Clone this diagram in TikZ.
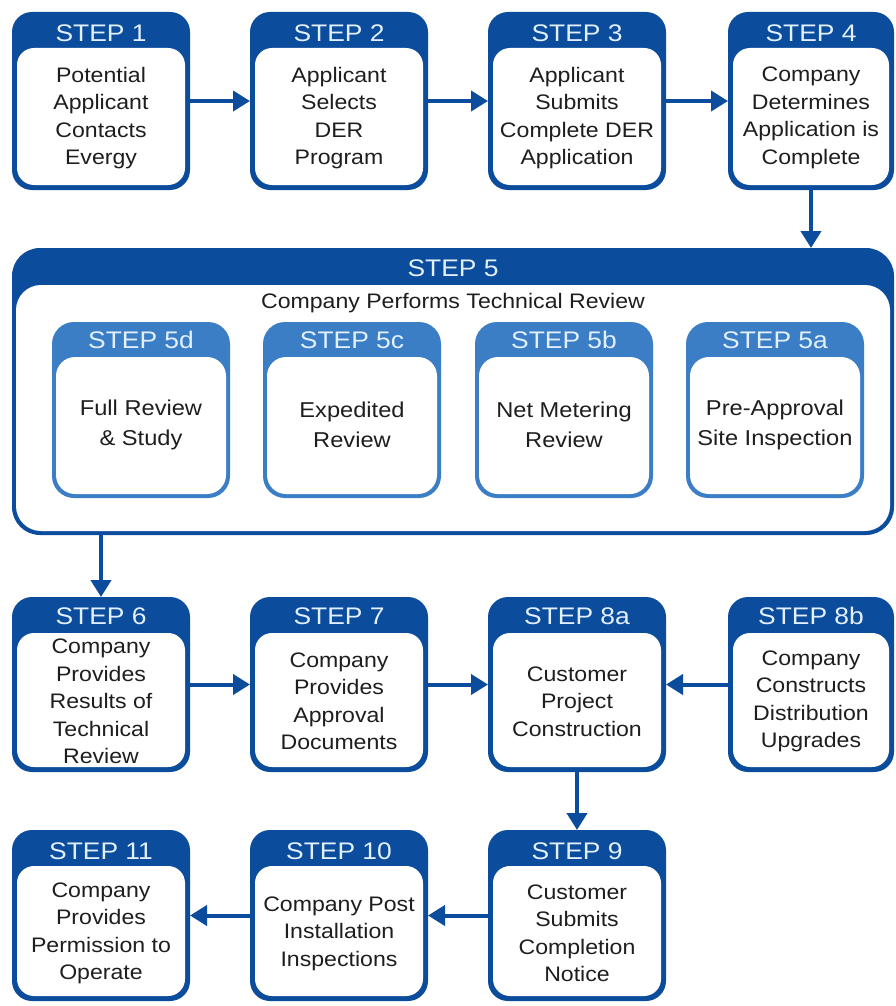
\documentclass[tikz,border=0pt]{standalone}
\usepackage{fontspec}
\setmainfont[FakeStretch=1.1]{Liberation Sans}
\usetikzlibrary{arrows.meta}
\definecolor{dblue}{HTML}{0B4C9C}
\definecolor{mblue}{HTML}{3B7EC6}
\definecolor{htext}{HTML}{E2F0FF}
\definecolor{btext}{HTML}{1E1E1E}
\tikzset{
  stepbox/.style={rectangle, inner sep=0pt, outer sep=0pt, rounded corners=20pt, fill=dblue,
    minimum width=178pt, minimum height=178pt,
    path picture={\fill[white, rounded corners=17pt]
      ([xshift=5pt,yshift=-36pt]path picture bounding box.north west) rectangle
      ([xshift=-5pt,yshift=5pt]path picture bounding box.south east);}},
  substep/.style={rectangle, inner sep=0pt, outer sep=0pt, rounded corners=22pt, fill=mblue,
    minimum width=178pt, minimum height=176pt,
    path picture={\fill[white, rounded corners=19pt]
      ([xshift=4pt,yshift=-35pt]path picture bounding box.north west) rectangle
      ([xshift=-4pt,yshift=4pt]path picture bounding box.south east);}},
  bigstep/.style={rectangle, inner sep=0pt, outer sep=0pt, rounded corners=28pt, fill=dblue,
    path picture={\fill[white, rounded corners=25pt]
      ([xshift=4pt,yshift=-37pt]path picture bounding box.north west) rectangle
      ([xshift=-4pt,yshift=4pt]path picture bounding box.south east);}},
  head/.style={inner sep=0pt, text=htext, font=\fontsize{24}{28}\selectfont},
  body/.style={inner sep=0pt, text=btext, align=center, font=\fontsize{21}{27.5}\selectfont},
  subbody/.style={inner sep=0pt, text=btext, align=center, font=\fontsize{21.5}{30}\selectfont},
  arr/.style={draw=dblue, line width=4pt, -{Triangle[length=17pt,width=20pt]}},
}
\begin{document}
\begin{tikzpicture}[x=1pt,y=-1pt]
\fill[white] (0,0) rectangle (896,1006);
\useasboundingbox (0,0) rectangle (896,1006);

% Row 1
\node[stepbox] (s1) at (101,101) {};
\node[stepbox] (s2) at (339,101) {};
\node[stepbox] (s3) at (577,101) {};
\node[stepbox, minimum width=166pt] (s4) at (811,101) {};
\node[head] (h1) at ([yshift=-21pt]s1.north) {STEP 1};
\node[head] (h2) at ([yshift=-21pt]s2.north) {STEP 2};
\node[head] (h3) at ([yshift=-21pt]s3.north) {STEP 3};
\node[head] (h4) at ([yshift=-21pt]s4.north) {STEP 4};
\node[body] (t1) at ([yshift=-17pt]s1.center) {Potential\\Applicant\\Contacts\\Evergy};
\node[body] (t2) at ([yshift=-17pt]s2.center) {Applicant\\Selects\\DER\\Program};
\node[body] (t3) at ([yshift=-17pt]s3.center) {Applicant\\Submits\\Complete DER\\Application};
\node[body] (t4) at ([yshift=-17pt]s4.center) {Company\\Determines\\Application is\\Complete};

% Step 5
\node[bigstep, minimum width=882pt, minimum height=287pt] (s5) at (453,391.5) {};
\node[head] (h5) at ([yshift=-20pt]s5.north) {STEP 5};
\node[body] (t5) at ([yshift=-55pt]s5.north) {Company Performs Technical Review};
\node[substep] (s5d) at (141,410) {};
\node[substep] (s5c) at (352,410) {};
\node[substep] (s5b) at (564,410) {};
\node[substep] (s5a) at (775,410) {};
\node[head] (h5d) at ([yshift=-18pt]s5d.north) {STEP 5d};
\node[head] (h5c) at ([yshift=-18pt]s5c.north) {STEP 5c};
\node[head] (h5b) at ([yshift=-18pt]s5b.north) {STEP 5b};
\node[head] (h5a) at ([yshift=-18pt]s5a.north) {STEP 5a};
\node[subbody] (t5d) at ([yshift=-15pt]s5d.center) {Full Review\\\& Study};
\node[subbody] (t5c) at ([yshift=-15pt]s5c.center) {Expedited\\Review};
\node[subbody] (t5b) at ([yshift=-15pt]s5b.center) {Net Metering\\Review};
\node[subbody] (t5a) at ([yshift=-15pt]s5a.center) {Pre-Approval\\Site Inspection};

% Row 3
\node[stepbox, minimum height=175pt] (s6) at (101,684.5) {};
\node[stepbox, minimum height=175pt] (s7) at (339,684.5) {};
\node[stepbox, minimum height=175pt] (s8a) at (577,684.5) {};
\node[stepbox, minimum height=175pt, minimum width=166pt] (s8b) at (811,684.5) {};
\node[head] (h6) at ([yshift=-19pt]s6.north) {STEP 6};
\node[head] (h7) at ([yshift=-19pt]s7.north) {STEP 7};
\node[head] (h8a) at ([yshift=-19pt]s8a.north) {STEP 8a};
\node[head] (h8b) at ([yshift=-19pt]s8b.north) {STEP 8b};
\node[body] (t6) at ([yshift=-17pt]s6.center) {Company\\Provides\\Results of\\Technical\\Review};
\node[body] (t7) at ([yshift=-17pt]s7.center) {Company\\Provides\\Approval\\Documents};
\node[body] (t8a) at ([yshift=-17pt]s8a.center) {Customer\\Project\\Construction};
\node[body] (t8b) at ([yshift=-17pt]s8b.center) {Company\\Constructs\\Distribution\\Upgrades};

% Row 4
\node[stepbox, minimum height=171pt] (s11) at (101,915.5) {};
\node[stepbox, minimum height=171pt] (s10) at (339,915.5) {};
\node[stepbox, minimum height=171pt] (s9) at (577,915.5) {};
\node[head] (h11) at ([yshift=-21pt]s11.north) {STEP 11};
\node[head] (h10) at ([yshift=-21pt]s10.north) {STEP 10};
\node[head] (h9) at ([yshift=-21pt]s9.north) {STEP 9};
\node[body] (t11) at ([yshift=-18pt]s11.center) {Company\\Provides\\Permission to\\Operate};
\node[body] (t10) at ([yshift=-18pt]s10.center) {Company Post\\Installation\\Inspections};
\node[body] (t9) at ([yshift=-18pt]s9.center) {Customer\\Submits\\Completion\\Notice};

% Connectors
\draw[arr] (s1.east) -- (s2.west);
\draw[arr] (s2.east) -- (s3.west);
\draw[arr] (s3.east) -- (s4.west);
\draw[arr] (s4.south) -- (s4.south |- s5.north);
\draw[arr] (s6.north |- s5.south) -- (s6.north);
\draw[arr] (s6.east) -- (s7.west);
\draw[arr] (s7.east) -- (s8a.west);
\draw[arr] (s8b.west) -- (s8a.east);
\draw[arr] (s8a.south) -- (s9.north);
\draw[arr] (s9.west) -- (s10.east);
\draw[arr] (s10.west) -- (s11.east);
\end{tikzpicture}
\end{document}
